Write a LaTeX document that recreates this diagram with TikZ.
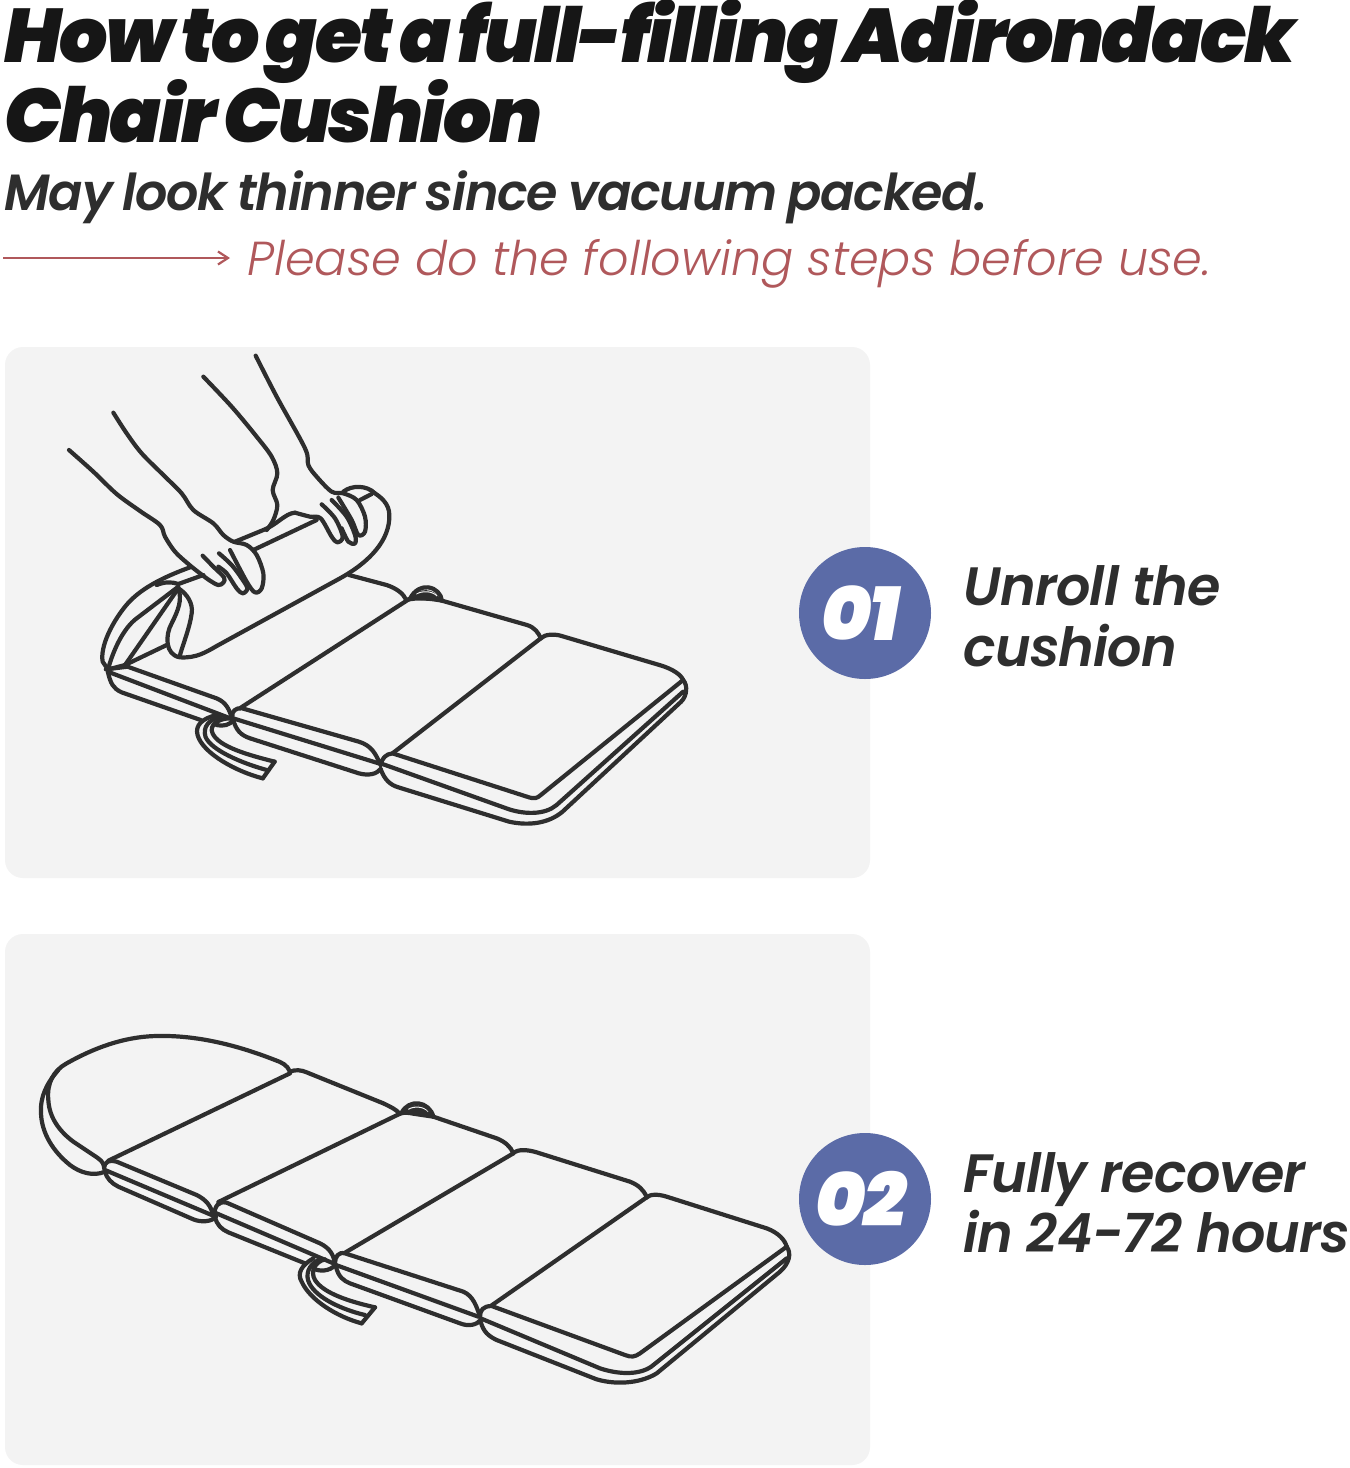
\documentclass[tikz,border=0pt]{standalone}
\usepackage{fontspec}
\usetikzlibrary{arrows.meta}
\newfontfamily\popx{Poppins Black Italic}[LetterSpace=-3.1,WordSpace=0.6]
\newfontfamily\popn{Poppins Black Italic}[LetterSpace=-3]
\newfontfamily\pops{Poppins SemiBold Italic}[LetterSpace=-1.5]
\newfontfamily\popt{Poppins SemiBold Italic}[LetterSpace=-2.5,WordSpace=0.8]
\newfontfamily\popl{Poppins Light Italic}
\definecolor{ink}{HTML}{2E2E2E}
\definecolor{head}{HTML}{161616}
\definecolor{panelc}{HTML}{F3F3F3}
\definecolor{redl}{HTML}{B0585B}
\definecolor{bluec}{HTML}{5B6BA7}
\tikzset{
  inkl/.style={draw=ink,line width=2.1pt,line cap=round,line join=round},
  txt/.style={inner sep=0pt,anchor=base west,text=ink},
  badge/.style={circle,fill=bluec,minimum size=66pt,inner sep=0pt},
  za/.style={shift={(50,340)},x=0.16667pt,y=-0.16667pt},
  zb/.style={shift={(90,570)},x=0.19771pt,y=-0.16667pt},
  zc/.style={shift={(30,1020)},x=0.16667pt,y=-0.16667pt},
  zd/.style={shift={(300,1090)},x=0.16667pt,y=-0.16667pt}
}
\newcommand{\cv}[1]{\draw[inkl] plot[smooth,tension=.55] coordinates {#1};}
\begin{document}
\begin{tikzpicture}[x=0.5pt,y=-0.5pt]
\useasboundingbox (0,0) rectangle (1350,1468);
\fill[white] (0,0) rectangle (1350,1468);
\node[txt,text=head,font=\popx\fontsize{38}{38}\selectfont] (t1) at (4,62) {How to get a full-filling Adirondack};
\node[txt,text=head,font=\popx\fontsize{38}{38}\selectfont] (t2) at (4,142) {Chair Cushion};
\node[txt,font=\popt\fontsize{25.4}{25.4}\selectfont] (t3) at (4,210) {May look thinner since vacuum packed.};
\coordinate (ar) at (3,258);
\coordinate (arb) at (230,258);
\node[txt,text=redl,font=\popl\fontsize{23.85}{23.85}\selectfont] (t4) at (247,275) {Please do the following steps before use.};
\draw[redl,line width=1.1pt,-{Straight Barb[length=5pt,width=6.5pt]}] (ar) -- (arb);
\fill[panelc,rounded corners=9pt] (5,347) rectangle (870,878);
\fill[panelc,rounded corners=9pt] (5,934) rectangle (870,1465);
\node[badge] (b1) at (865,613) {};
\node[badge] (b2) at (865,1199) {};
\node[inner sep=0pt,text=white,font=\popn\fontsize{38}{38}\selectfont] (n1) at (861,613) {01};
\node[inner sep=0pt,text=white,font=\popn\fontsize{38}{38}\selectfont] (n2) at (861,1199) {02};
\node[txt,font=\pops\fontsize{27}{27}\selectfont] (l1a) at (963,605) {Unroll the};
\node[txt,font=\pops\fontsize{27}{27}\selectfont] (l1b) at (963,666) {cushion};
\node[txt,font=\pops\fontsize{27}{27}\selectfont] (l2a) at (963,1192) {Fully recover};
\node[txt,font=\pops\fontsize{27}{27}\selectfont] (l2b) at (963,1252) {in 24-72 hours};
% ---- panel 1: hands and roll
\begin{scope}[za]
\cv{(57,330)(130,395)(200,462)(270,513)(330,555)(345,590)(375,635)(415,672)(450,700)(480,722)(505,735)(520,728)(522,712)(490,680)(458,647)}
\cv{(190,218)(230,280)(275,340)(340,405)(395,460)(430,510)(490,550)(520,585)(550,605)(590,615)(620,645)(640,700)(635,745)(615,757)(590,725)(540,630)}
\cv{(507,640)(545,675)(575,715)(592,745)(578,760)(560,745)(530,700)(505,680)}
\cv{(460,110)(545,200)(620,290)(665,350)(682,400)(668,450)(682,495)(670,540)(650,570)}
\cv{(617,47)(680,170)(765,325)(775,375)(800,410)(845,455)(880,460)(920,480)(945,530)(945,575)(925,585)(905,540)(865,473)}
\cv{(845,480)(890,530)(915,585)(915,610)(895,605)(875,565)}
\cv{(735,518)(780,530)(812,535)(845,590)(862,607)(878,590)(855,535)(815,493)}
\draw[inkl] (555,605) -- (640,570) .. controls (680,555) and (705,520) .. (735,518);
\draw[inkl] (610,630) -- (800,540);
\draw[inkl] (930,480) -- (965,462);
\draw[inkl] (385,732) -- (460,705);
\draw[inkl] (420,682) .. controls (330,715) and (265,750) .. (225,800) .. controls (185,850) and (150,920) .. (158,965) -- (175,990);
\draw[inkl] (175,985) .. controls (190,930) and (220,865) .. (260,835) -- (385,740);
\draw[inkl] (385,732) .. controls (365,725) and (345,725) .. (320,735);
\draw[inkl] (225,975) -- (385,745);
\draw[inkl] (175,988) -- (225,975) -- (350,915);
\draw[inkl] (385,745) .. controls (410,760) and (430,790) .. (425,820) .. controls (420,860) and (400,910) .. (390,945);
\draw[inkl] (385,745) .. controls (397,780) and (385,810) .. (365,850) .. controls (345,885) and (345,945) .. (390,952) .. controls (440,955) and (470,935) .. (500,918) -- (870,715) .. controls (960,665) and (1020,600) .. (1018,525) .. controls (1018,490) and (990,470) .. (975,460) .. controls (950,435) and (905,435) .. (880,455);
\end{scope}
% ---- panel 1: cushion
\begin{scope}[zb]
\draw[inkl] (40,298) -- (95,290) -- (320,385) .. controls (345,397) and (352,420) .. (358,440);
\draw[inkl] (45,305) -- (355,445);
\draw[inkl] (45,305) .. controls (52,340) and (58,355) .. (80,367) -- (280,450);
\draw[inkl] (380,414) -- (810,85);
\draw[inkl] (655,15) -- (750,45) .. controls (775,55) and (792,70) .. (800,90);
\fill[ink] (812,88) .. controls (825,50) and (875,50) .. (888,94) -- cycle;
\draw[panelc,line width=0.5pt] (825,72) .. controls (840,62) and (865,62) .. (878,78);
\draw[inkl] (810,85) .. controls (820,60) and (840,50) .. (855,52) .. controls (875,55) and (888,72) .. (890,92);
\draw[inkl] (800,90) .. controls (825,82) and (860,85) .. (890,92) -- (1105,165) .. controls (1125,172) and (1135,190) .. (1140,205);
\draw[inkl] (765,550) -- (1140,205);
\draw[inkl] (735,585) .. controls (738,565) and (748,552) .. (765,550) -- (1105,680) .. controls (1125,688) and (1130,685) .. (1140,675) -- (1500,330);
\draw[inkl] (360,440) .. controls (358,425) and (368,412) .. (385,415) -- (680,515) .. controls (712,527) and (722,550) .. (735,585);
\draw[inkl] (1140,205) .. controls (1150,192) and (1175,192) .. (1190,197) -- (1440,285) .. controls (1475,297) and (1495,315) .. (1500,330);
\draw[inkl] (362,445) -- (730,580);
\draw[inkl] (362,450) .. controls (370,480) and (380,495) .. (405,505) -- (680,610) .. controls (705,618) and (725,612) .. (735,597);
\draw[inkl] (735,580) -- (1060,718) .. controls (1100,733) and (1150,735) .. (1180,705) -- (1500,365);
\draw[inkl] (735,597) .. controls (745,630) and (760,645) .. (780,652) -- (1060,755) .. controls (1110,768) and (1160,760) .. (1195,725) -- (1495,395) .. controls (1510,378) and (1512,345) .. (1500,330);
\draw[inkl] (320,435) .. controls (285,445) and (265,465) .. (272,495) .. controls (285,550) and (370,605) .. (437,625);
\draw[inkl] (330,440) .. controls (300,450) and (285,470) .. (292,500) .. controls (305,540) and (385,580) .. (447,600);
\draw[inkl] (355,445) .. controls (325,445) and (300,465) .. (310,490) .. controls (325,530) and (400,555) .. (467,575);
\draw[inkl] (467,575) -- (437,625);
\draw[inkl] (320,465) .. controls (335,470) and (355,465) .. (362,450);
\end{scope}
% ---- panel 2
\begin{scope}[zc]
\draw[inkl] (780,155) .. controls (772,135) and (755,127) .. (735,120) .. controls (620,75) and (500,45) .. (380,48) .. controls (280,50) and (190,85) .. (110,130) .. controls (70,152) and (50,190) .. (55,240) .. controls (58,295) and (90,335) .. (130,365) -- (190,405) .. controls (210,418) and (220,425) .. (222,440);
\draw[inkl] (85,150) .. controls (50,190) and (30,230) .. (33,280) .. controls (35,340) and (70,395) .. (120,435) .. controls (150,458) and (190,470) .. (225,455);
\draw[inkl] (235,422) -- (780,160);
\draw[inkl] (780,155) .. controls (795,148) and (815,150) .. (830,157) -- (1060,250) .. controls (1085,262) and (1100,270) .. (1108,280);
\fill[ink] (1118,280) .. controls (1135,245) and (1190,245) .. (1207,292) -- cycle;
\draw[panelc,line width=0.5pt] (1135,268) .. controls (1150,258) and (1180,258) .. (1195,275);
\draw[inkl] (1115,278) .. controls (1125,258) and (1145,248) .. (1165,250) .. controls (1185,252) and (1205,268) .. (1210,290);
\draw[inkl] (565,546) -- (1108,282) .. controls (1120,276) and (1135,278) .. (1150,281) -- (1210,290);
\draw[inkl] (222,445) .. controls (222,425) and (240,418) .. (260,425) -- (500,525) .. controls (530,540) and (545,560) .. (550,590);
\draw[inkl] (225,450) -- (545,585);
\draw[inkl] (225,455) .. controls (230,475) and (245,490) .. (265,500) -- (490,598) .. controls (515,608) and (545,605) .. (558,590);
\draw[inkl] (553,585) .. controls (553,560) and (565,542) .. (590,548) -- (870,670) .. controls (900,685) and (912,705) .. (915,735);
\draw[inkl] (555,578) -- (910,730);
\draw[inkl] (555,590) .. controls (560,615) and (575,628) .. (595,637) -- (825,730);
\draw[inkl] (850,715) .. controls (815,735) and (800,760) .. (815,785) .. controls (840,840) and (920,890) .. (995,910);
\draw[inkl] (865,720) .. controls (835,735) and (825,765) .. (838,790) .. controls (860,835) and (940,870) .. (1005,885);
\draw[inkl] (885,718) .. controls (855,725) and (840,755) .. (855,780) .. controls (880,820) and (960,845) .. (1035,862);
\draw[inkl] (1035,862) -- (995,910);
\draw[inkl] (850,745) .. controls (865,755) and (900,755) .. (915,735);
\end{scope}
\begin{scope}[zd]
\draw[inkl] (135,488) -- (640,190);
\draw[inkl] (400,80) -- (590,145) .. controls (615,155) and (632,170) .. (640,190);
\draw[inkl] (575,646) -- (1040,322);
\draw[inkl] (640,188) .. controls (655,178) and (680,178) .. (710,187) -- (990,275) .. controls (1015,285) and (1032,300) .. (1040,322);
\draw[inkl] (1040,322) .. controls (1050,312) and (1075,312) .. (1100,320) -- (1400,415) .. controls (1435,428) and (1455,450) .. (1460,470);
\draw[inkl] (105,520) .. controls (105,500) and (115,485) .. (135,490) -- (490,605) .. controls (520,618) and (530,650) .. (540,680);
\draw[inkl] (108,525) -- (535,680);
\draw[inkl] (108,530) .. controls (115,560) and (130,572) .. (150,580) -- (480,700) .. controls (505,710) and (530,705) .. (542,690);
\draw[inkl] (540,680) .. controls (540,660) and (550,648) .. (575,648) -- (975,795) .. controls (995,803) and (1005,800) .. (1020,790) -- (1460,470);
\draw[inkl] (542,685) -- (900,835) .. controls (960,855) and (1025,855) .. (1060,825) -- (1460,505);
\draw[inkl] (542,695) .. controls (550,725) and (565,738) .. (590,750) -- (890,868) .. controls (960,888) and (1030,875) .. (1070,850) -- (1440,545) .. controls (1468,520) and (1475,490) .. (1460,470);
\end{scope}
\end{tikzpicture}
\end{document}
